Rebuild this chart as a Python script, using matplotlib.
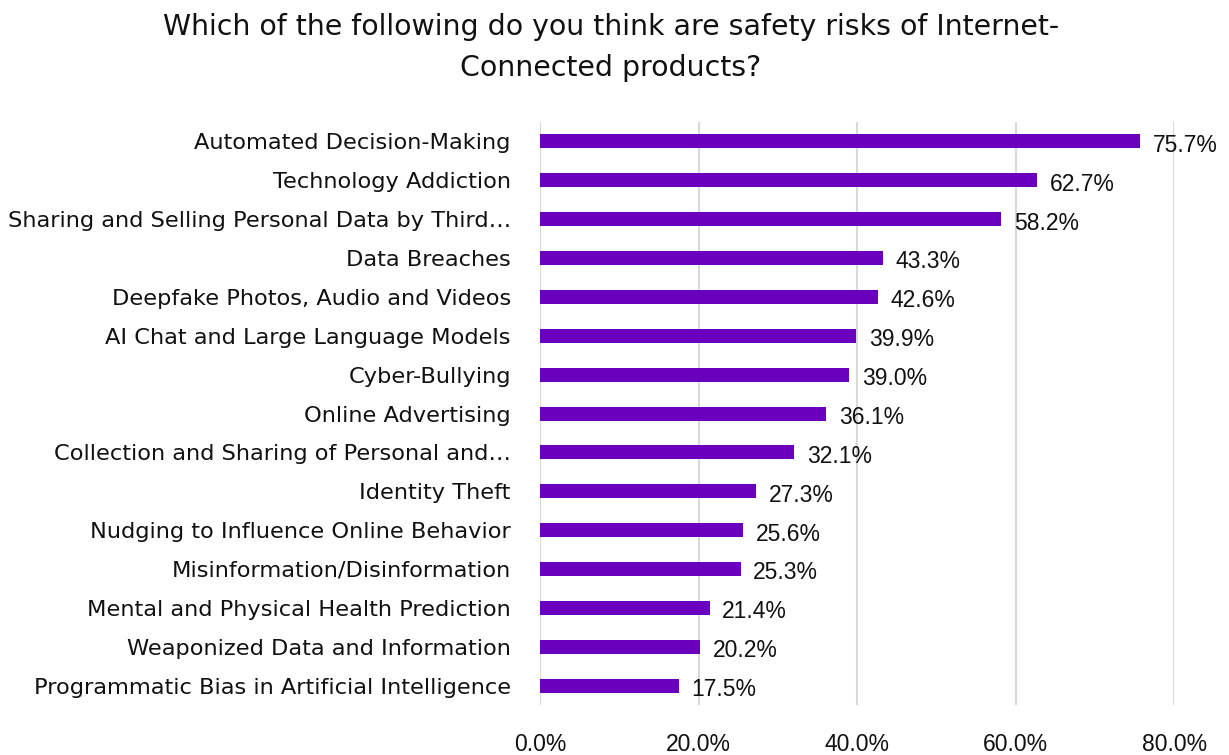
import matplotlib.pyplot as plt

# -------------------------
# Datos
# -------------------------
categorias = [
    "Automated Decision-Making",
    "Technology Addiction",
    "Sharing and Selling Personal Data by Third…",
    "Data Breaches",
    "Deepfake Photos, Audio and Videos",
    "AI Chat and Large Language Models",
    "Cyber-Bullying",
    "Online Advertising",
    "Collection and Sharing of Personal and…",
    "Identity Theft",
    "Nudging to Influence Online Behavior",
    "Misinformation/Disinformation",
    "Mental and Physical Health Prediction",
    "Weaponized Data and Information",
    "Programmatic Bias in Artificial Intelligence",
]
porcentajes = [75.7, 62.7, 58.2, 43.3, 42.6, 39.9, 39.0, 36.1, 32.1,
               27.3, 25.6, 25.3, 21.4, 20.2, 17.5]
ticks_x = [0, 20, 40, 60, 80]

titulo = "Which of the following do you think are safety risks of Internet-\nConnected products?"

FUENTE_TXT = "DejaVu Sans"
FUENTE_NUM = "Liberation Sans"
COLOR_BARRA = "#6A00BE"

fig = plt.figure(figsize=(12.29, 7.55), dpi=100)
ax = fig.add_axes([0.4394, 0.0662, 0.5159, 0.7722])

y = list(range(len(categorias)))
ax.barh(y, porcentajes, height=0.36, color=COLOR_BARRA, zorder=3)

# Etiquetas de valor al final de cada barra
for yi, v in zip(y, porcentajes):
    ax.text(v + 1.6, yi + 0.1, f"{v:.1f}%", va="center", ha="left",
            fontsize=16.5, family=FUENTE_NUM, color="#111111")

ax.set_xlim(0, 80)
ax.set_ylim(14.5, -0.5)
ax.set_xticks(ticks_x)
ax.set_xticklabels([f"{t:.1f}%" for t in ticks_x], family=FUENTE_NUM, fontsize=16.5)
ax.set_yticks(y)
ax.set_yticklabels(categorias, family=FUENTE_TXT, fontsize=16.2)
ax.tick_params(axis="x", length=0, pad=20, colors="#111111")
ax.tick_params(axis="y", length=0, pad=21, colors="#111111")

ax.grid(axis="x", color="#D9D9D9", linewidth=1.5, zorder=0)
for s in ax.spines.values():
    s.set_visible(False)

fig.text(0.497, 0.983, titulo, ha="center", va="top", fontsize=20.4,
         family=FUENTE_TXT, color="#111111", linespacing=1.6)

fig.savefig("out.png", dpi=100)
